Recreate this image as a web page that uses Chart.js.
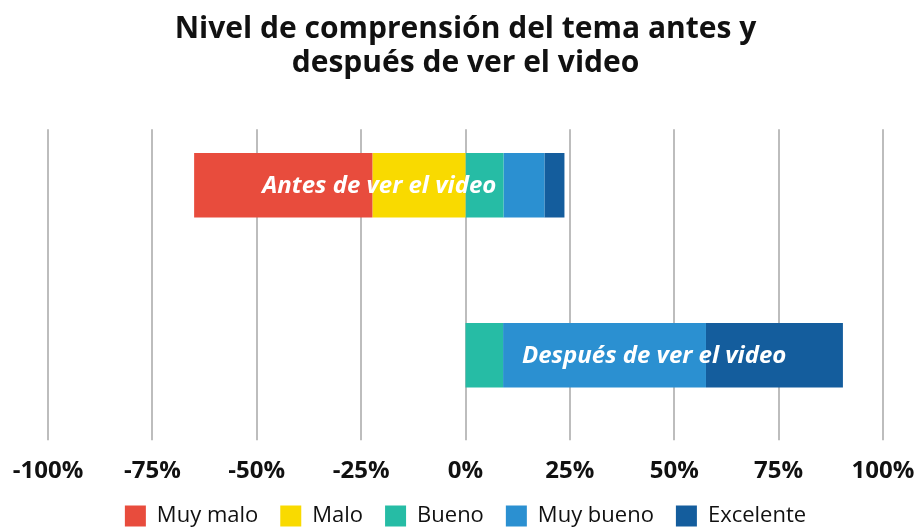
<!DOCTYPE html>
<html>
<head>
<meta charset="utf-8">
<script src="https://cdn.jsdelivr.net/npm/chart.js@4"></script>
<style>
  html, body { margin: 0; padding: 0; background: #fff; }
  #wrap { width: 915px; height: 527px; }
</style>
</head>
<body>
<div id="wrap"><canvas id="chart" width="915" height="527"></canvas></div>
<script>
// Datos (%)
const categories = ['Antes de ver el video', 'Después de ver el video'];
const levels = ['Muy malo', 'Malo', 'Bueno', 'Muy bueno', 'Excelente'];
const muyMalo   = [42.7, 0];
const malo      = [22.3, 0];
const bueno     = [9.1, 9.0];
const muyBueno  = [9.8, 48.6];
const excelente = [4.8, 32.8];
const tickValues = [-100, -75, -50, -25, 0, 25, 50, 75, 100];
const colors = ['#E84C3D', '#F9DA00', '#26BCA5', '#2B90D1', '#145D9D'];

// Barras flotantes: lo negativo hacia la izquierda desde 0, lo positivo hacia la derecha
const ranges = categories.map((c, i) => {
    const r = [];
    r.push([-(malo[i] + muyMalo[i]), -malo[i]]);
    r.push([-malo[i], 0]);
    r.push([0, bueno[i]]);
    r.push([bueno[i], bueno[i] + muyBueno[i]]);
    r.push([bueno[i] + muyBueno[i], bueno[i] + muyBueno[i] + excelente[i]]);
    return r;
});

const datasets = levels.map((lvl, k) => ({
    label: lvl,
    data: categories.map((c, i) => ranges[i][k]),
    backgroundColor: colors[k],
    borderWidth: 0,
    borderSkipped: false,
    grouped: false,
    barPercentage: 0.38,
    categoryPercentage: 1
}));

// Líneas de la cuadrícula (empiezan un poco por debajo del borde del área)
const gridPlugin = {
    id: 'grid',
    beforeDatasetsDraw(chart) {
        const { ctx, chartArea, scales } = chart;
        ctx.save();
        ctx.strokeStyle = '#bdbdbd';
        ctx.lineWidth = 2;
        tickValues.forEach(v => {
            const x = Math.round(scales.x.getPixelForValue(v));
            ctx.beginPath();
            ctx.moveTo(x, chartArea.top + 29);
            ctx.lineTo(x, chartArea.bottom);
            ctx.stroke();
        });
        ctx.restore();
    }
};

// Etiqueta de cada barra, centrada en la barra completa
const barLabels = {
    id: 'barLabels',
    afterDatasetsDraw(chart) {
        const { ctx, scales } = chart;
        ctx.save();
        ctx.fillStyle = '#fff';
        ctx.font = 'italic bold 24px "Open Sans"';
        ctx.textAlign = 'center';
        ctx.textBaseline = 'middle';
        categories.forEach((c, i) => {
            const left = -(malo[i] + muyMalo[i]);
            const right = bueno[i] + muyBueno[i] + excelente[i];
            const x = (scales.x.getPixelForValue(left) + scales.x.getPixelForValue(right)) / 2;
            const y = scales.y.getPixelForValue(i);
            ctx.fillText(c, x, y + 1);
        });
        ctx.restore();
    }
};

new Chart(document.getElementById('chart'), {
    type: 'bar',
    data: { labels: categories, datasets: datasets },
    plugins: [gridPlugin, barLabels],
    options: {
        indexAxis: 'y',
        responsive: false,
        animation: false,
        layout: { padding: { left: 48, right: 32, top: 0, bottom: -10 } },
        scales: {
            x: {
                min: -100,
                max: 100,
                afterBuildTicks: axis => { axis.ticks = tickValues.map(v => ({ value: v })); },
                afterFit: axis => {
                    axis.paddingLeft = 0;
                    axis.paddingRight = 0;
                    axis.height -= 12;
                },
                grid: { display: false },
                border: { display: false },
                ticks: {
                    padding: 9,
                    color: '#111',
                    font: { family: 'Open Sans', size: 24, weight: 'bold' },
                    callback: v => v + '%'
                }
            },
            y: {
                display: false
            }
        },
        plugins: {
            title: {
                display: true,
                text: ['Nivel de comprensión del tema antes y', 'después de ver el video'],
                color: '#111',
                font: { family: 'Open Sans', size: 30, weight: 'bold', lineHeight: 1.12 },
                padding: { top: 13, bottom: 20 }
            },
            legend: {
                position: 'bottom',
                labels: {
                    boxWidth: 21,
                    boxHeight: 21,
                    padding: 22,
                    color: '#111',
                    font: { family: 'Open Sans', size: 22 }
                }
            },
            tooltip: { enabled: false }
        }
    }
});
</script>
</body>
</html>
